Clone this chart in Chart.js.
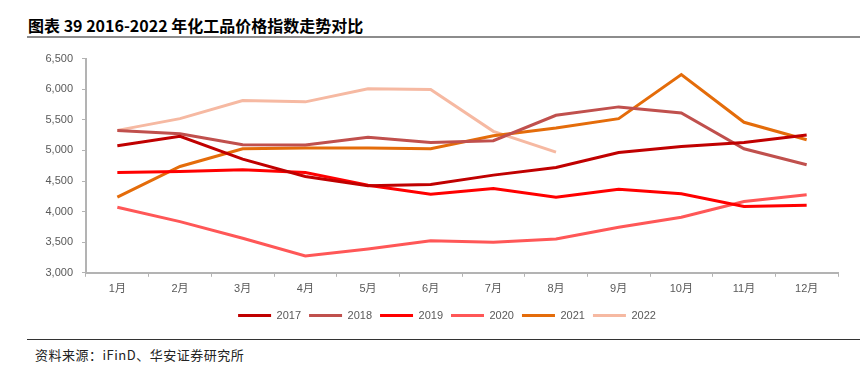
<!DOCTYPE html>
<html>
<head>
<meta charset="utf-8">
<script src="https://cdn.jsdelivr.net/npm/chart.js@4"></script>
<style>
	html, body { margin: 0; padding: 0; background: #fff; overflow: hidden; }
	body { width: 860px; height: 373px; position: relative; }
	.title { position: absolute; left: 28px; top: 13px; font: bold 16px "Noto Sans CJK SC", "Liberation Sans", sans-serif; color: #000; white-space: nowrap; }
	.title-rule { position: absolute; left: 27px; right: 0; top: 36px; height: 2px; background: #8c8c8c; }
	.source-rule { position: absolute; left: 27px; right: 0; top: 339px; height: 1px; background: #333; }
	.source { position: absolute; left: 35px; top: 345px; font: 13px "Noto Sans CJK SC", sans-serif; letter-spacing: 0.5px; color: #222; white-space: nowrap; }
	.chart-box { position: absolute; left: 32px; top: 43px; width: 830px; height: 288px; }
</style>
</head>
<body>
<div class="title">图表 39 2016-2022 年化工品价格指数走势对比</div>
<div class="title-rule"></div>
<div class="chart-box"><canvas id="priceChart"></canvas></div>
<div class="source-rule"></div>
<div class="source">资料来源：iFinD、华安证券研究所</div>
<script>
const months = ['1月', '2月', '3月', '4月', '5月', '6月', '7月', '8月', '9月', '10月', '11月', '12月'];

const y2017 = [5077, 5230, 4858, 4574, 4421, 4443, 4596, 4721, 4967, 5065, 5131, 5252];
const y2018 = [5327, 5273, 5093, 5088, 5213, 5131, 5159, 5573, 5711, 5612, 5027, 4765];
const y2019 = [4639, 4655, 4683, 4639, 4432, 4285, 4377, 4236, 4367, 4290, 4082, 4105];
const y2020 = [4072, 3836, 3564, 3274, 3389, 3525, 3498, 3552, 3744, 3908, 4164, 4274];
const y2021 = [4236, 4737, 5027, 5039, 5039, 5027, 5240, 5367, 5519, 6240, 5459, 5175];
const y2022 = [5327, 5519, 5814, 5793, 6006, 5995, 5311, 4973, null, null, null, null];

const seriesNames = ['2017', '2018', '2019', '2020', '2021', '2022'];
const seriesColors = ['#C00000', '#C0504D', '#FF0000', '#FF5757', '#E46C0A', '#F6B9A2'];

const yTicks = { min: 3000, max: 6500, step: 500 };

const allSeries = [y2017, y2018, y2019, y2020, y2021, y2022];

const axisColor = '#b3b3b3';
const labelFont = { family: '"Liberation Sans", Arial, "Noto Sans CJK SC", sans-serif', size: 11 };

// nudge the legend row a little right, like the original
const legendShift = {
	id: 'legendShift',
	afterLayout(chart) {
		chart.legend.left += 12;
		chart.legend.right += 12;
	}
};

const ctx = document.getElementById('priceChart').getContext('2d');
new Chart(ctx, {
	type: 'line',
	data: {
		labels: months,
		datasets: allSeries.map((vals, i) => ({
			label: seriesNames[i],
			data: vals,
			borderColor: seriesColors[i],
			backgroundColor: seriesColors[i],
			borderWidth: 3,
			pointRadius: 0,
			tension: 0,
			fill: false,
			spanGaps: false
		}))
	},
	plugins: [legendShift],
	options: {
		responsive: true,
		maintainAspectRatio: false,
		animation: false,
		layout: { padding: { top: 8, right: 24, bottom: 0, left: 0 } },
		plugins: {
			tooltip: { enabled: false },
			legend: {
				position: 'bottom',
				labels: {
					boxWidth: 33,
					boxHeight: 3,
					padding: 8,
					color: '#595959',
					font: labelFont,
					generateLabels: chart => chart.data.datasets.map((ds, i) => ({
						text: ds.label,
						fillStyle: ds.borderColor,
						strokeStyle: ds.borderColor,
						lineWidth: 0,
						fontColor: '#595959',
						datasetIndex: i
					}))
				}
			}
		},
		scales: {
			x: {
				offset: true,
				grid: {
					offset: true,
					drawOnChartArea: false,
					drawTicks: true,
					tickLength: 4,
					color: axisColor
				},
				border: { color: axisColor, width: 2 },
				ticks: { color: '#595959', font: labelFont, padding: 6, maxRotation: 0 }
			},
			y: {
				min: yTicks.min,
				max: yTicks.max,
				afterFit: scale => { scale.width = 54; },
				grid: {
					drawOnChartArea: false,
					drawTicks: true,
					tickLength: 4,
					color: axisColor
				},
				border: { color: axisColor, width: 2 },
				ticks: {
					stepSize: yTicks.step,
					color: '#595959',
					font: labelFont,
					padding: 9,
					callback: v => v.toLocaleString('en-US')
				}
			}
		}
	}
});
</script>
</body>
</html>
